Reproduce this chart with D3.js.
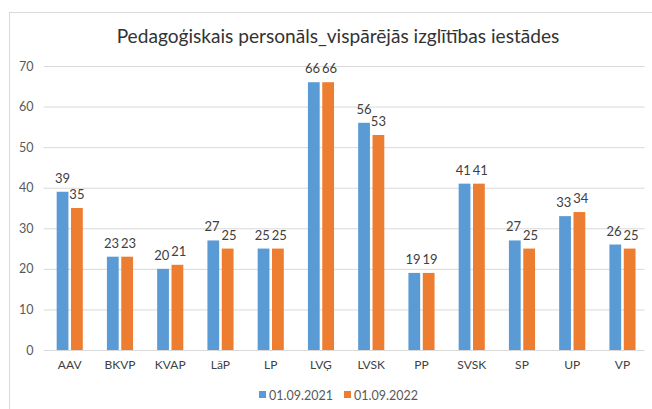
<!DOCTYPE html>
<html><head><meta charset="utf-8">
<script src="https://cdn.jsdelivr.net/npm/d3@7"></script>
<style>
html,body{margin:0;padding:0;background:#fff;}
svg{display:block;font-family:Lato,"Open Sans",sans-serif;}
</style></head>
<body>
<svg id="c" width="652" height="409"></svg>
<script>
const title = "Pedagoģiskais personāls_vispārējās izglītības iestādes";
const categories = ["AAV","BKVP","KVAP","LāP","LP","LVĢ","LVSK","PP","SVSK","SP","UP","VP"];
const seriesNames = ["01.09.2021","01.09.2022"];
const values2021 = [39,23,20,27,25,66,56,19,41,27,33,26];
const values2022 = [35,23,21,25,25,66,53,19,41,25,34,25];
const yTicks = [0,10,20,30,40,50,60,70];
const colors = ["#5B9BD5","#ED7D31"];

const svg = d3.select("#c");
const plot = {left:44.6, right:647.6, top:66, bottom:350};

svg.append("rect").attr("x",9.5).attr("y",12.5).attr("width",700).attr("height",450)
  .attr("fill","#fff").attr("stroke","#d9d9d9").attr("stroke-width",1);

const t = svg.append("text").attr("x",338).attr("y",43).attr("text-anchor","middle")
  .attr("fill","#333").style("font-size","18px").text(title);
const tl = t.node().getComputedTextLength();
t.style("font-size", (18*443/tl).toFixed(2)+"px");

const x0 = d3.scaleBand().domain(categories).range([plot.left,plot.right]).paddingInner(0.48).paddingOuter(0.24);
const x1 = d3.scaleBand().domain(seriesNames).range([0,x0.bandwidth()]).paddingInner(0.18);
const y = d3.scaleLinear().domain([0,70]).range([plot.bottom,plot.top]);

const yAxis = d3.axisLeft(y).tickValues(yTicks).tickSize(-(plot.right-plot.left-2)).tickPadding(10);
const ga = svg.append("g").attr("transform",`translate(${plot.left-1},0)`).call(yAxis);
ga.select(".domain").remove();
ga.selectAll(".tick line").attr("stroke","#d9d9d9").attr("stroke-width",1);
ga.selectAll(".tick text").attr("fill","#595959").style("font-size","12.5px").style("font-family","Lato,sans-serif");

const xAxis = d3.axisBottom(x0).tickSize(0).tickPadding(10);
const gx = svg.append("g").attr("transform",`translate(0,${plot.bottom})`).call(xAxis);
gx.select(".domain").remove();
gx.selectAll(".tick text").attr("fill","#404040").style("font-size","12px").style("font-family","Lato,sans-serif");

const rows = categories.map((c,i)=>({cat:c, vals:[values2021[i],values2022[i]]}));
const g = svg.append("g");
const grp = g.selectAll("g.cat").data(rows).join("g").attr("class","cat")
  .attr("transform",d=>`translate(${x0(d.cat)},0)`);
grp.selectAll("rect").data(d=>d.vals.map((v,j)=>({v,s:seriesNames[j],j})))
  .join("rect")
  .attr("x",d=>x1(d.s)).attr("width",x1.bandwidth())
  .attr("y",d=>y(d.v)).attr("height",d=>y(0)-y(d.v))
  .attr("fill",d=>colors[d.j]);

grp.each(function(){
  const labels = d3.select(this).selectAll("text.lbl").data(d=>d.vals.map((v,j)=>({v,s:seriesNames[j],j})))
    .join("text").attr("class","lbl")
    .attr("x",d=>x1(d.s)+x1.bandwidth()/2).attr("y",d=>y(d.v)-9)
    .attr("text-anchor","middle").attr("fill","#404040").style("font-size","13px")
    .text(d=>d.v);
  const nodes = labels.nodes();
  if (nodes.length===2){
    const a = nodes[0], b = nodes[1];
    const ya = +a.getAttribute("y"), yb = +b.getAttribute("y");
    const wa = a.getComputedTextLength(), wb = b.getComputedTextLength();
    const xa = +a.getAttribute("x"), xb = +b.getAttribute("x");
    if (Math.abs(ya-yb) < 11){
      const overlap = (xa+wa/2) - (xb-wb/2) + 2;
      if (overlap > 0){
        a.setAttribute("x", xa-overlap/2);
        b.setAttribute("x", xb+overlap/2);
      }
    }
  }
});

const legend = svg.append("g").attr("transform","translate(0,395)");
const lx = [259, 344];
seriesNames.forEach((s,i)=>{
  legend.append("rect").attr("x",lx[i]).attr("y",-4).attr("width",7).attr("height",7).attr("fill",colors[i]);
  legend.append("text").attr("x",lx[i]+10).attr("y",4.5).attr("fill","#595959").style("font-size","12.5px").text(s);
});
</script>
</body></html>
